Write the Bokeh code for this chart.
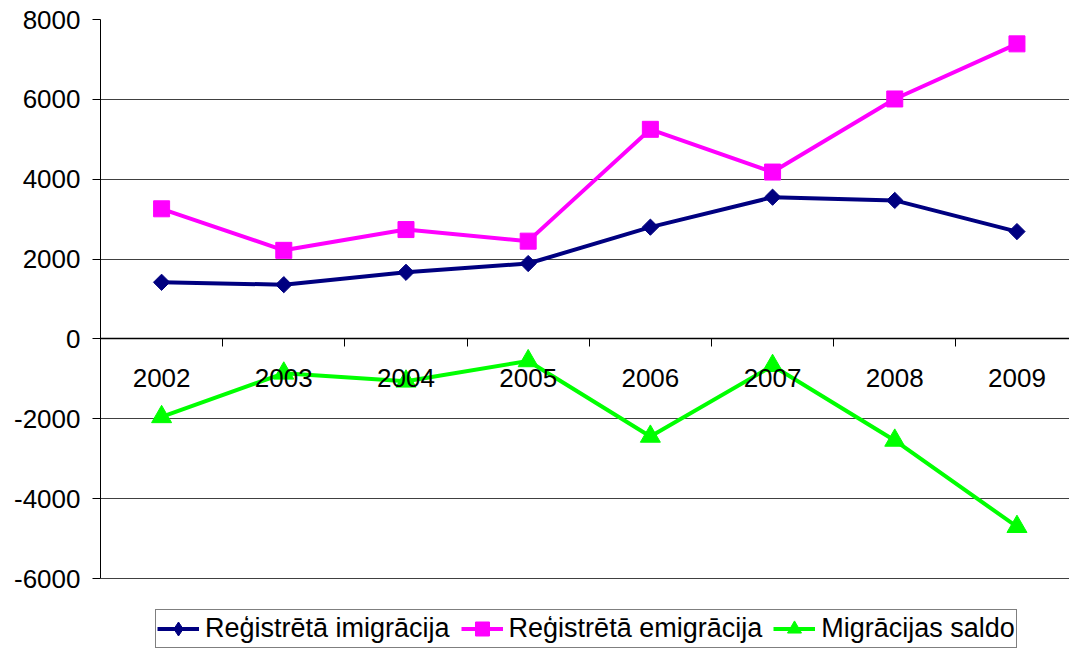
import numpy as np
from bokeh.plotting import figure
from bokeh.models import Range1d, FixedTicker, LinearAxis, Legend, LegendItem, Grid
from bokeh.embed import file_html
from bokeh.resources import INLINE

years = ["2002", "2003", "2004", "2005", "2006", "2007", "2008", "2009"]
imigracija = [1420, 1360, 1670, 1890, 2800, 3550, 3470, 2690]
emigracija = [3260, 2220, 2740, 2450, 5250, 4180, 6010, 7390]
saldo = [-1950, -860, -1060, -550, -2440, -670, -2540, -4700]
y_ticks = [-6000, -4000, -2000, 0, 2000, 4000, 6000, 8000]

FONT = "Liberation Sans"
NAVY, MAGENTA, GREEN = "#000080", "#FF00FF", "#00FF00"
x = [i + 0.5 for i in range(len(years))]
boundaries = list(range(len(years) + 1))

p = figure(width=1069, height=650,
           x_range=Range1d(0, 7.93), y_range=Range1d(-7800, 8000),
           output_backend="svg", toolbar_location=None,
           x_axis_location=None, y_axis_location=None,
           min_border_left=100, min_border_right=0, min_border_top=19, min_border_bottom=0)
p.outline_line_color = None
p.background_fill_color = "white"
p.border_fill_color = "white"
p.xgrid.visible = False
p.ygrid.visible = False

grid = Grid(dimension=1, ticker=FixedTicker(ticks=y_ticks), grid_line_color="#404040",
            grid_line_width=1, bounds=(-6000, 8000))
p.add_layout(grid)

yaxis = LinearAxis(ticker=FixedTicker(ticks=y_ticks), axis_line_color="black", bounds=(-6000, 8000),
                   major_tick_out=8, major_tick_in=0, minor_tick_line_color=None,
                   major_label_overrides={t: str(t) for t in y_ticks},
                   major_label_standoff=12, major_label_text_font=FONT,
                   major_label_text_font_size="26px", major_label_text_color="black")
p.add_layout(yaxis, "left")

tick_axis = LinearAxis(ticker=FixedTicker(ticks=boundaries), fixed_location=0,
                       axis_line_color="black", axis_line_width=1.5,
                       major_tick_out=8, major_tick_in=0, minor_tick_line_color=None,
                       major_label_text_color=None)
p.add_layout(tick_axis, "below")

label_axis = LinearAxis(ticker=FixedTicker(ticks=x), fixed_location=0,
                        major_label_overrides={xi: y for xi, y in zip(x, years)},
                        axis_line_color=None, major_tick_line_color=None, minor_tick_line_color=None,
                        major_label_standoff=24, major_label_text_font=FONT,
                        major_label_text_font_size="26px", major_label_text_color="black")
p.add_layout(label_axis, "below")

l1 = p.line(x, imigracija, line_color=NAVY, line_width=4)
# diamond (used by the legend) hidden beneath the square-looking rhombus markers
k1 = p.scatter(x, imigracija, marker="diamond", size=13, color=NAVY)
p.scatter(x, imigracija, marker="square", angle=np.pi / 4, size=11.5, color=NAVY)
l2 = p.line(x, emigracija, line_color=MAGENTA, line_width=4)
m2 = p.scatter(x, emigracija, marker="square", size=16, color=MAGENTA)
l3 = p.line(x, saldo, line_color=GREEN, line_width=4)
m3 = p.scatter(x, saldo, marker="triangle", size=20, color=GREEN)

legend = Legend(items=[
    LegendItem(label="Reģistrētā imigrācija", renderers=[l1, k1]),
    LegendItem(label="Reģistrētā emigrācija", renderers=[l2, m2]),
    LegendItem(label="Migrācijas saldo", renderers=[l3, m3]),
], orientation="horizontal", location=(55, 2),
    label_text_font=FONT, label_text_font_size="27px", label_text_color="black",
    border_line_color="black", border_line_width=1, background_fill_color="white",
    glyph_width=42, glyph_height=35, spacing=11, padding=1, label_standoff=6, margin=0)
p.add_layout(legend)

open("out.html", "w").write(file_html(p, INLINE))
